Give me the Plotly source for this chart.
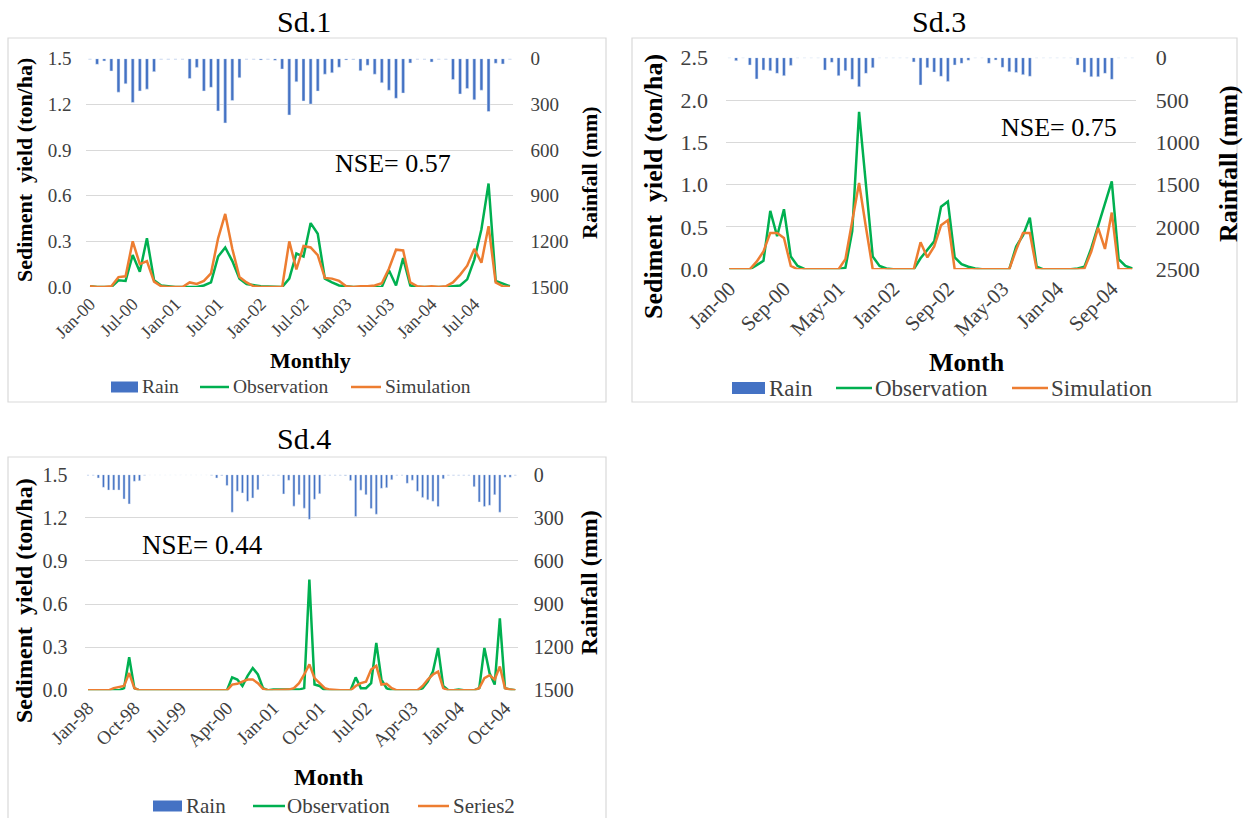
import plotly.graph_objects as go

# ---------------- DATA ----------------
months1 = ["Jan-00", "Jul-00", "Jan-01", "Jul-01", "Jan-02", "Jul-02", "Jan-03", "Jul-03", "Jan-04", "Jul-04"]
rain1 = [3, 37, 15, 81, 220, 165, 288, 212, 200, 85,
         3, 3, 3, 3, 130, 57, 212, 188, 343, 422,
         275, 125, 3, 3, 8, 3, 11, 68, 370, 152,
         278, 298, 213, 102, 93, 56, 8, 5, 79, 43,
         102, 158, 207, 260, 226, 28, 3, 3, 22, 3,
         3, 137, 232, 196, 270, 207, 347, 30, 35, 3]
obs1 = [0.005, 0, 0, 0, 0.044, 0.04, 0.21, 0.10, 0.32, 0.045,
        0.01, 0.005, 0, 0, 0, 0, 0.01, 0.03, 0.20, 0.26,
        0.17, 0.055, 0.02, 0.01, 0.005, 0.003, 0, 0, 0.055, 0.22,
        0.20, 0.42, 0.35, 0.055, 0.03, 0.01, 0.005, 0, 0, 0,
        0, 0, 0.11, 0.01, 0.19, 0.01, 0, 0, 0, 0,
        0, 0.005, 0.01, 0.05, 0.18, 0.38, 0.68, 0.04, 0.02, 0.005]
sim1 = [0.005, 0, 0, 0.005, 0.065, 0.07, 0.30, 0.15, 0.17, 0.035,
        0.005, 0, 0, 0, 0.03, 0.02, 0.04, 0.09, 0.32, 0.48,
        0.25, 0.065, 0.03, 0.005, 0, 0, 0, 0, 0.30, 0.115,
        0.27, 0.26, 0.21, 0.06, 0.055, 0.04, 0.005, 0, 0.005, 0.005,
        0.01, 0.025, 0.12, 0.245, 0.24, 0.03, 0.005, 0, 0.005, 0,
        0.005, 0.03, 0.08, 0.14, 0.25, 0.16, 0.40, 0.03, 0.005, 0]

months3 = ["Jan-00", "Sep-00", "May-01", "Jan-02", "Sep-02", "May-03", "Jan-04", "Sep-04"]
rain3 = [3, 35, 3, 87, 252, 146, 154, 185, 213, 91,
         3, 3, 3, 3, 146, 55, 213, 154, 256, 343,
         185, 118, 3, 3, 3, 3, 3, 50, 323, 118,
         170, 220, 280, 87, 67, 30, 3, 3, 67, 28,
         114, 165, 175, 200, 220, 3, 3, 3, 3, 3,
         3, 87, 173, 225, 225, 185, 256, 3, 3, 3]
obs3 = [0, 0, 0, 0, 0.05, 0.10, 0.69, 0.39, 0.71, 0.15,
        0.04, 0.005, 0, 0, 0, 0, 0, 0.02, 0.45, 1.86,
        1.05, 0.15, 0.04, 0.01, 0, 0, 0, 0, 0.13, 0.23,
        0.33, 0.74, 0.80, 0.14, 0.06, 0.03, 0.01, 0, 0, 0,
        0, 0.005, 0.27, 0.40, 0.61, 0.03, 0, 0, 0, 0,
        0, 0.01, 0.03, 0.25, 0.52, 0.78, 1.04, 0.12, 0.04, 0.01]
sim3 = [0, 0, 0, 0, 0.09, 0.21, 0.43, 0.43, 0.37, 0.04,
        0, 0, 0, 0, 0, 0, 0, 0.12, 0.55, 1.02,
        0.50, 0, 0, 0, 0, 0, 0, 0, 0.32, 0.14,
        0.27, 0.52, 0.58, 0, 0, 0, 0, 0, 0, 0,
        0, 0.005, 0.23, 0.43, 0.43, 0, 0, 0, 0, 0,
        0, 0, 0.01, 0.21, 0.49, 0.24, 0.67, 0, 0, 0]

months4 = ["Jan-98", "Oct-98", "Jul-99", "Apr-00", "Jan-01", "Oct-01", "Jul-02", "Apr-03", "Jan-04", "Oct-04"]
rain4 = [3, 3, 23, 88, 107, 107, 107, 169, 203, 46,
         42, 3, 0, 0, 0, 0, 0, 0, 0, 0,
         0, 0, 0, 0, 3, 23, 5, 76, 261, 115,
         127, 185, 162, 104, 3, 3, 3, 3, 134, 39,
         219, 139, 233, 310, 171, 132, 3, 3, 3, 3,
         6, 40, 291, 108, 139, 235, 275, 95, 90, 35,
         3, 3, 60, 38, 115, 158, 175, 185, 222, 29,
         3, 3, 3, 3, 3, 83, 190, 222, 213, 139,
         261, 18, 18, 3]
obs4 = [0, 0, 0, 0.003, 0, 0, 0, 0.015, 0.23, 0.015,
        0, 0, 0, 0, 0, 0, 0, 0, 0, 0,
        0, 0, 0, 0, 0, 0, 0, 0, 0.09, 0.075,
        0.03, 0.10, 0.155, 0.11, 0.015, 0, 0.005, 0.005, 0.005, 0.005,
        0.005, 0.005, 0.015, 0.77, 0.04, 0.03, 0, 0, 0, 0,
        0, 0, 0.09, 0.015, 0.015, 0.05, 0.33, 0.075, 0.015, 0,
        0, 0, 0, 0, 0, 0.015, 0.06, 0.13, 0.295, 0.03,
        0, 0, 0.005, 0, 0, 0, 0.015, 0.295, 0.12, 0.04,
        0.50, 0.015, 0.005, 0]
sim4 = [0, 0, 0, 0, 0, 0.015, 0.025, 0.03, 0.12, 0.015,
        0, 0, 0, 0, 0, 0, 0, 0, 0, 0,
        0, 0, 0, 0, 0, 0, 0, 0, 0.04, 0.045,
        0.06, 0.075, 0.075, 0.05, 0.01, 0, 0, 0, 0, 0.005,
        0.015, 0.05, 0.11, 0.18, 0.085, 0.05, 0.015, 0.005, 0, 0,
        0, 0, 0.03, 0.05, 0.06, 0.145, 0.17, 0.04, 0.045, 0.015,
        0, 0, 0, 0, 0, 0.03, 0.075, 0.11, 0.13, 0.015,
        0, 0, 0, 0, 0, 0, 0.015, 0.085, 0.105, 0.075,
        0.165, 0.015, 0.005, 0]

# ---------------- LAYOUT HELPERS ----------------
W, H = 1243, 818
SERIF = "Liberation Serif"
BLUE, GREEN, ORANGE = "#4472C4", "#00B050", "#ED7D31"
GRID = "#D9D9D9"
TXT = "#404040"


def px(x):
    return x / W


def py(y):
    return 1 - y / H


fig = go.Figure()

panels = [
    dict(name="Sd.1", rain=rain1, obs=obs1, sim=sim1, labels=months1, step=6,
         x0=90.0, dx=7.117, ytop=58.7, ybot=287.0, ymax=1.5, ydt=0.3, rmax=1500, rdt=300,
         tfs=19, xfs=18, simname="Simulation", xtitle="Monthly", xt=(310, 360), xt_fs=22,
         title=(304, 22), lt=(24, 170), rt=(589, 173), at_fs=22, lstand=14, rstand=16,
         nse="NSE= 0.57", nse_xy=(393, 163), nse_fs=26,
         leg=dict(y=387, fs=19.5, rect=(111, 138), rtx=140, ol=(200, 229), otx=231,
                  sl=(351, 381), stx=383, rh=11),
         box=(8, 38, 606, 402)),
    dict(name="Sd.3", rain=rain3, obs=obs3, sim=sim3, labels=months3, step=8,
         x0=729.3, dx=6.83, ytop=57.7, ybot=269.3, ymax=2.5, ydt=0.5, rmax=2500, rdt=500,
         tfs=22, xfs=21, simname="Simulation", xtitle="Month", xt=(967, 362), xt_fs=26,
         title=(939, 22), lt=(653, 187), rt=(1228, 164), at_fs=26, lstand=17, rstand=19,
         nse="NSE= 0.75", nse_xy=(1059, 127), nse_fs=26,
         leg=dict(y=388, fs=23, rect=(732, 765), rtx=767, ol=(836, 872), otx=873,
                  sl=(1012, 1048), stx=1049, rh=12),
         box=(632, 38, 1237, 402)),
    dict(name="Sd.4", rain=rain4, obs=obs4, sim=sim4, labels=months4, step=9,
         x0=88.0, dx=5.148, ytop=474.7, ybot=690.3, ymax=1.5, ydt=0.3, rmax=1500, rdt=300,
         tfs=20, xfs=19, simname="Series2", xtitle="Month", xt=(328, 777), xt_fs=24,
         title=(304, 438), lt=(24, 601), rt=(589, 583), at_fs=24, lstand=17, rstand=15,
         nse="NSE= 0.44", nse_xy=(202, 545), nse_fs=27,
         leg=dict(y=806, fs=21, rect=(153, 182), rtx=184, ol=(253, 285), otx=285,
                  sl=(418, 449), stx=451, rh=11),
         box=(8, 457, 606, 830)),
]

annotations = []
shapes = []


def ann(text, x, y, size, color="#000000", angle=0, xanchor="center"):
    return dict(text=text, x=px(x), y=py(y), xref="paper", yref="paper",
                showarrow=False, textangle=angle, xanchor=xanchor, yanchor="middle",
                font=dict(family=SERIF, size=size, color=color))


for k, p in enumerate(panels):
    n = len(p["rain"])
    idx = list(range(n))
    xa = "x" if k == 0 else f"x{k+1}"
    ya = "y" if k == 0 else f"y{2*k+1}"
    yb = f"y{2*k+2}"
    xkey = "xaxis" if k == 0 else f"xaxis{k+1}"
    ykey = "yaxis" if k == 0 else f"yaxis{2*k+1}"
    ybkey = f"yaxis{2*k+2}"

    left = p["x0"] - 0.5 * p["dx"]
    right = p["x0"] + (n - 0.5) * p["dx"]

    fig.add_trace(go.Bar(x=idx, y=p["rain"], name="Rain", marker_color=BLUE, width=0.42,
                         xaxis=xa, yaxis=yb, showlegend=False))
    fig.add_trace(go.Scatter(x=idx, y=p["obs"], name="Observation", mode="lines",
                             line=dict(color=GREEN, width=2.5), xaxis=xa, yaxis=ya,
                             showlegend=False))
    fig.add_trace(go.Scatter(x=idx, y=p["sim"], name=p["simname"], mode="lines",
                             line=dict(color=ORANGE, width=2.5), xaxis=xa, yaxis=ya,
                             showlegend=False))

    tickpos = list(range(0, n, p["step"]))
    fig.layout[xkey] = dict(
        domain=[px(left), px(right)], anchor=ya, range=[-0.5, n - 0.5],
        tickmode="array", tickvals=tickpos, ticktext=p["labels"][:len(tickpos)],
        tickangle=-45, showgrid=False, zeroline=False, showline=False, ticks="",
        automargin=False, ticklabelstandoff=2,
        tickfont=dict(family=SERIF, size=p["xfs"], color=TXT))
    nt = int(round(p["ymax"] / p["ydt"]))
    yvals = [round(i * p["ydt"], 2) for i in range(nt + 1)]
    fig.layout[ykey] = dict(
        domain=[py(p["ybot"]), py(p["ytop"])], anchor=xa, range=[0, p["ymax"]],
        tickmode="array", tickvals=yvals, ticktext=[f"{v:.1f}" for v in yvals],
        showgrid=True, gridcolor=GRID, gridwidth=1, zeroline=False, showline=False,
        automargin=False, ticklabelstandoff=p["lstand"],
        tickfont=dict(family=SERIF, size=p["tfs"], color=TXT))
    rvals = list(range(0, p["rmax"] + 1, p["rdt"]))
    fig.layout[ybkey] = dict(
        overlaying=ya, side="right", anchor=xa, range=[p["rmax"], 0],
        tickmode="array", tickvals=rvals, ticktext=[str(v) for v in rvals],
        showgrid=False, zeroline=False, showline=False,
        automargin=False, ticklabelstandoff=p["rstand"],
        tickfont=dict(family=SERIF, size=p["tfs"], color=TXT))

    annotations += [
        ann(p["name"], p["title"][0], p["title"][1], 30),
        ann(f"<b>{p['xtitle']}</b>", p["xt"][0], p["xt"][1], p["xt_fs"]),
        ann("<b>Sediment  yield (ton/ha)</b>", p["lt"][0], p["lt"][1], p["at_fs"], angle=-90),
        ann("<b>Rainfall (mm)</b>", p["rt"][0], p["rt"][1], p["at_fs"], angle=-90),
        ann(p["nse"], p["nse_xy"][0], p["nse_xy"][1], p["nse_fs"]),
    ]

    # custom legend (Excel style)
    L = p["leg"]
    ly = L["y"]
    shapes.append(dict(type="rect", xref="paper", yref="paper",
                       x0=px(L["rect"][0]), x1=px(L["rect"][1]),
                       y0=py(ly + L["rh"] / 2), y1=py(ly - L["rh"] / 2),
                       line=dict(width=0), fillcolor=BLUE))
    shapes.append(dict(type="line", xref="paper", yref="paper",
                       x0=px(L["ol"][0]), x1=px(L["ol"][1]), y0=py(ly), y1=py(ly),
                       line=dict(color=GREEN, width=2.5)))
    shapes.append(dict(type="line", xref="paper", yref="paper",
                       x0=px(L["sl"][0]), x1=px(L["sl"][1]), y0=py(ly), y1=py(ly),
                       line=dict(color=ORANGE, width=2.5)))
    annotations += [
        ann("Rain", L["rtx"], ly, L["fs"], color=TXT, xanchor="left"),
        ann("Observation", L["otx"], ly, L["fs"], color=TXT, xanchor="left"),
        ann(p["simname"], L["stx"], ly, L["fs"], color=TXT, xanchor="left"),
    ]

    b = p["box"]
    shapes.append(dict(type="rect", xref="paper", yref="paper",
                       x0=px(b[0]), x1=px(b[2]), y0=py(b[3]), y1=py(b[1]),
                       line=dict(color=GRID, width=1.2), fillcolor="rgba(0,0,0,0)",
                       layer="below"))

fig.update_layout(
    width=W, height=H, margin=dict(l=0, r=0, t=0, b=0, autoexpand=False),
    paper_bgcolor="white", plot_bgcolor="rgba(0,0,0,0)",
    annotations=annotations, shapes=shapes, barmode="overlay", showlegend=False,
    font=dict(family=SERIF, color=TXT),
)

fig.write_html("out.html")
